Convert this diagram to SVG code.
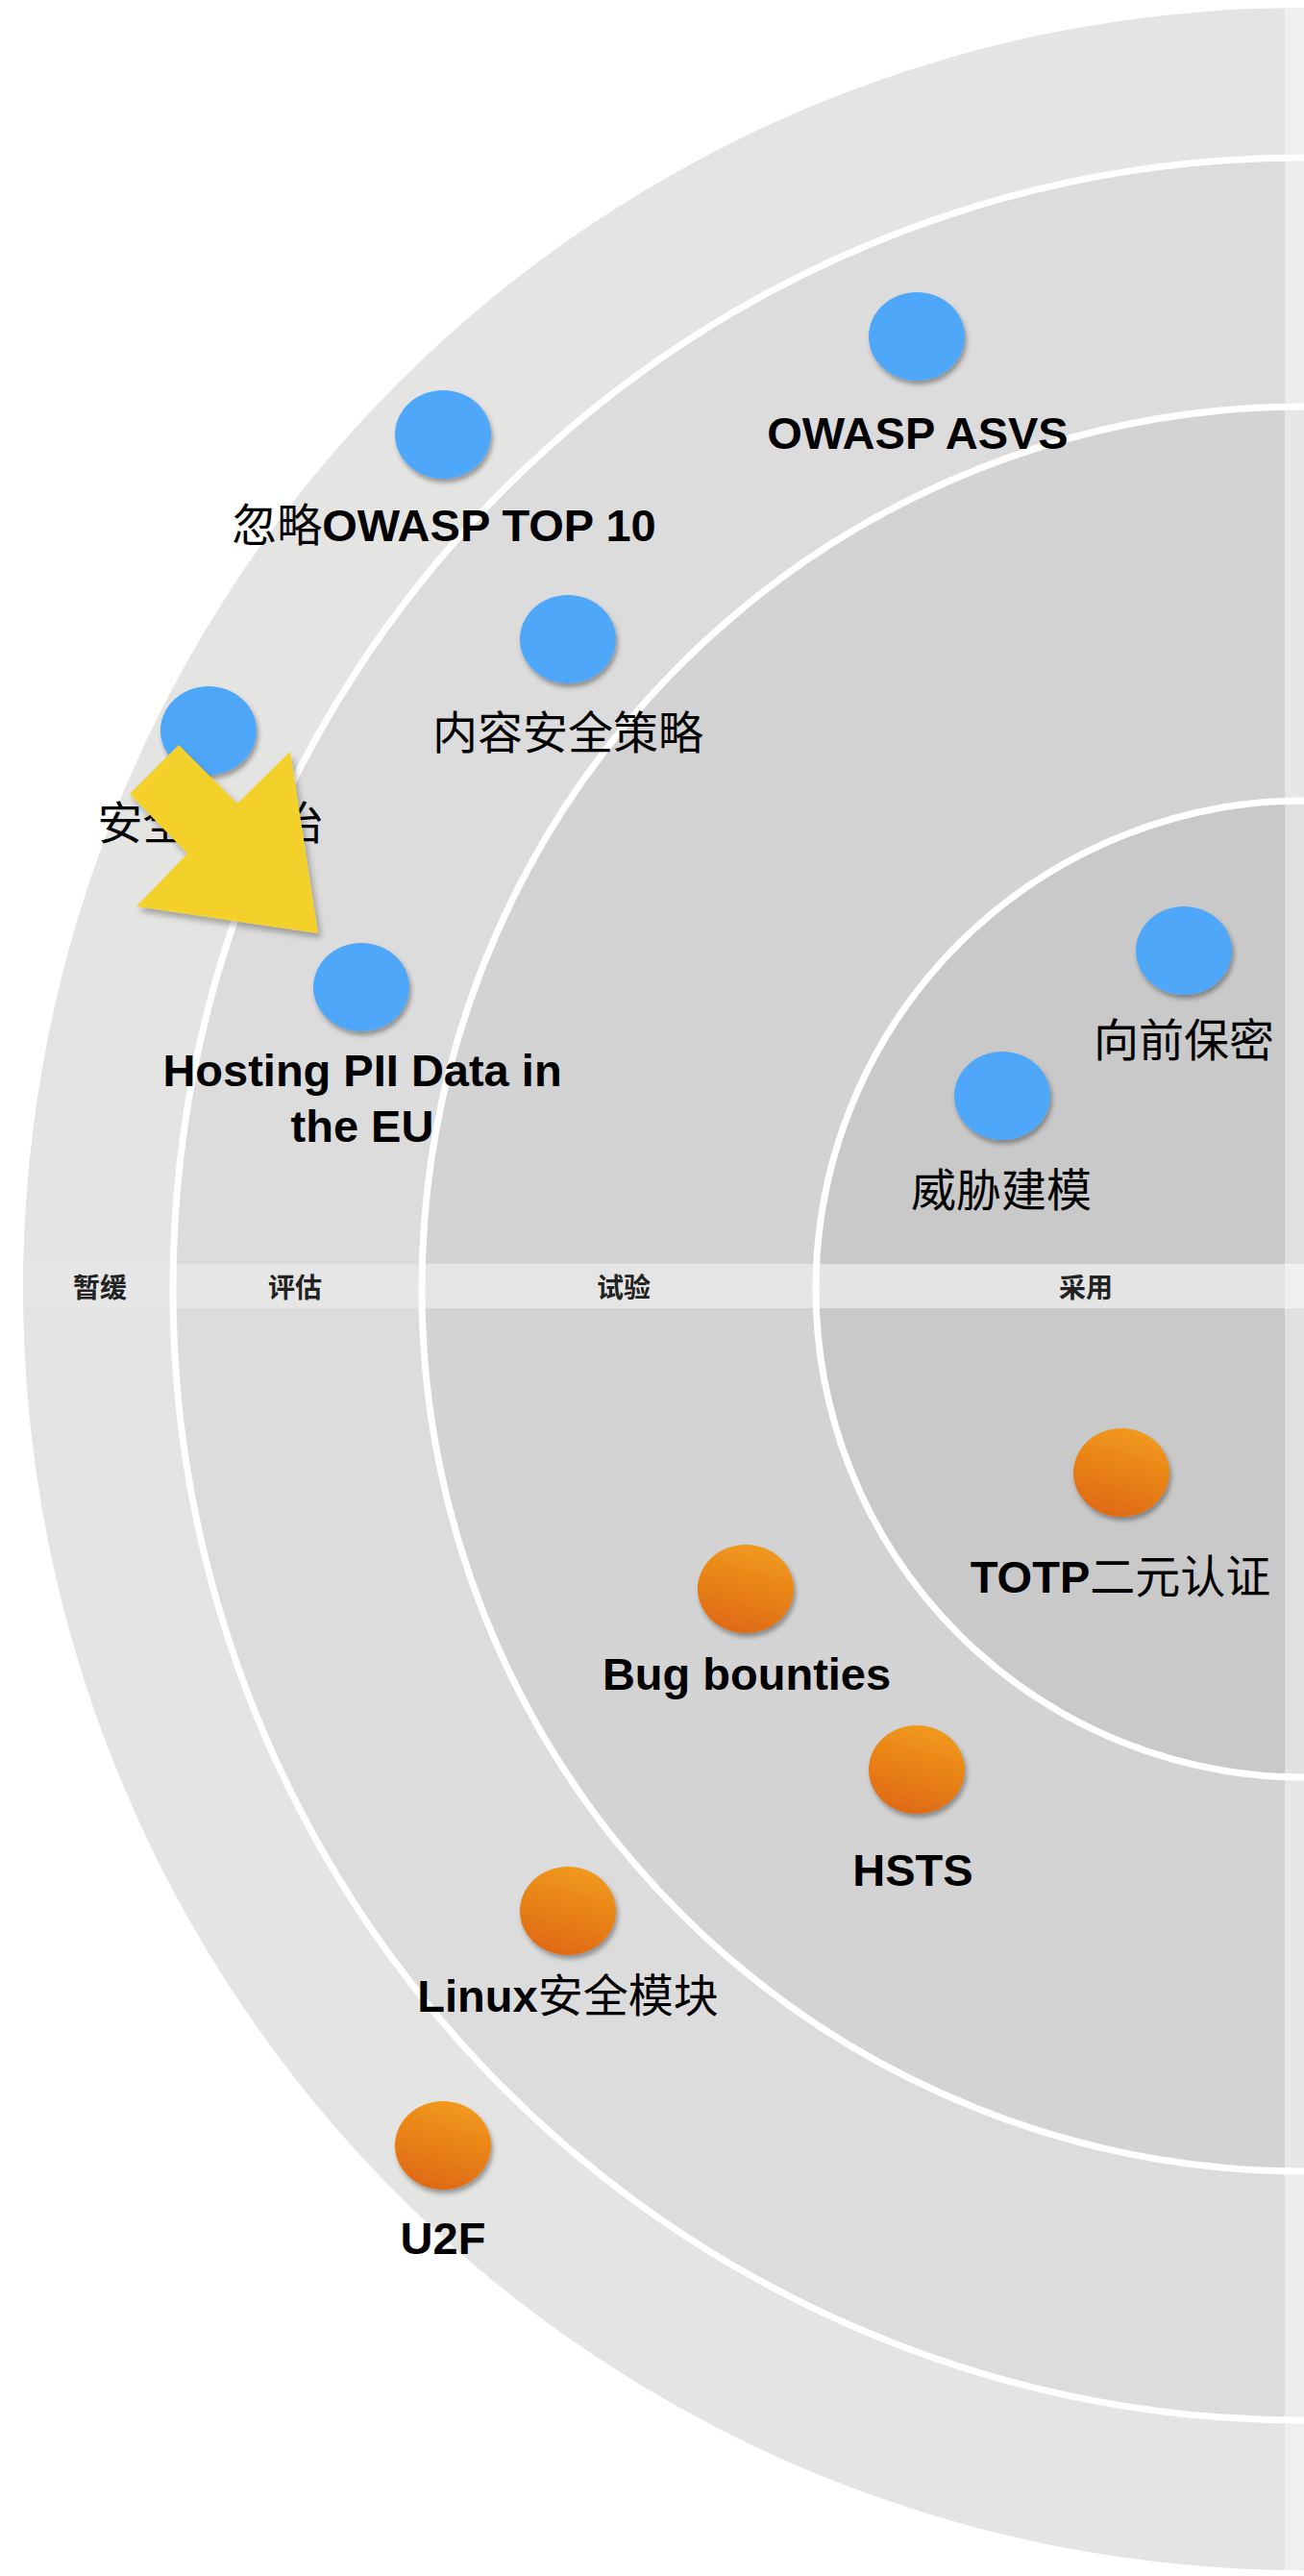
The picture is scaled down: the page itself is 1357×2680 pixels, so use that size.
<svg xmlns="http://www.w3.org/2000/svg" width="1357" height="2680" viewBox="0 0 1357 2680">
<style>
.lbl{font-family:"Liberation Sans","Noto Sans CJK SC",sans-serif;font-size:47px;fill:#000;text-anchor:middle}
.b{font-weight:bold}
.cjk{font-family:"Noto Sans CJK SC",sans-serif;font-weight:normal}
.ring{fill:none;stroke:#ffffff;stroke-width:7}
.band{font-family:"Noto Sans CJK SC",sans-serif;font-weight:bold;font-size:28px;fill:#222;text-anchor:middle}
.blue{fill:#50a7f9;filter:url(#sh)}
.orange{fill:url(#og);filter:url(#sh)}
</style>
<defs>
<filter id="sh" x="-30%" y="-30%" width="170%" height="170%">
<feDropShadow dx="2" dy="4" stdDeviation="2.5" flood-color="#000" flood-opacity="0.35"/>
</filter>
<filter id="ash" x="-20%" y="-20%" width="150%" height="150%">
<feDropShadow dx="3" dy="5" stdDeviation="3" flood-color="#000" flood-opacity="0.3"/>
</filter>
<linearGradient id="og" x1="0.65" y1="0" x2="0.35" y2="1">
<stop offset="0" stop-color="#f19a1d"/>
<stop offset="1" stop-color="#df6911"/>
</linearGradient>
<clipPath id="outer"><circle cx="1357" cy="1341" r="1333"/></clipPath>
</defs>
<rect width="1357" height="2680" fill="#ffffff"/>
<g id="radar">
<circle cx="1357" cy="1341" r="1333" fill="#e4e4e3"/>
<circle cx="1357" cy="1341" r="1177" fill="#dddcdd"/>
<circle cx="1357" cy="1341" r="918" fill="#d3d3d3"/>
<circle cx="1357" cy="1341" r="508" fill="#c9c9c9"/>
<rect x="0" y="1315" width="1357" height="46" fill="#e6e6e6" opacity="0.92" clip-path="url(#outer)"/>
<circle class="ring" cx="1357" cy="1341" r="1177"/>
<circle class="ring" cx="1357" cy="1341" r="918"/>
<circle class="ring" cx="1357" cy="1341" r="508"/>
<rect x="1337" y="0" width="20" height="2680" fill="#ffffff" opacity="0.45"/>
<text class="band" x="104" y="1350">暂缓</text>
<text class="band" x="307" y="1350">评估</text>
<text class="band" x="649" y="1350">试验</text>
<text class="band" x="1130" y="1350">采用</text>
</g>
<g id="n-owasp-asvs"><ellipse class="blue" cx="954" cy="350" rx="50" ry="46"/><text class="lbl b" x="955" y="467">OWASP ASVS</text></g>
<g id="n-owasp-top10"><ellipse class="blue" cx="461" cy="452" rx="50" ry="46"/><text class="lbl" x="462" y="563"><tspan class="cjk">忽略</tspan><tspan class="b">OWASP TOP 10</tspan></text></g>
<g id="n-csp"><ellipse class="blue" cx="591" cy="665" rx="50" ry="46"/><text class="lbl cjk" x="591" y="779">内容安全策略</text></g>
<g id="n-sandwich"><ellipse class="blue" cx="217" cy="760" rx="50" ry="46"/><text class="lbl cjk" x="219" y="873">安全三明治</text></g>
<g id="n-pii"><ellipse class="blue" cx="376" cy="1027" rx="50" ry="46"/><text class="lbl b" x="377" y="1130">Hosting PII Data in</text><text class="lbl b" x="377" y="1188">the EU</text></g>
<g id="n-forward"><ellipse class="blue" cx="1232" cy="989" rx="50" ry="46"/><text class="lbl cjk" x="1232" y="1099">向前保密</text></g>
<g id="n-threat"><ellipse class="blue" cx="1043" cy="1140" rx="50" ry="46"/><text class="lbl cjk" x="1042" y="1255">威胁建模</text></g>
<g id="n-totp"><ellipse class="orange" cx="1167" cy="1532" rx="50" ry="46"/><text class="lbl" x="1166" y="1657"><tspan class="b">TOTP</tspan><tspan class="cjk">二元认证</tspan></text></g>
<g id="n-bug"><ellipse class="orange" cx="776" cy="1653" rx="50" ry="46"/><text class="lbl b" x="777" y="1758">Bug bounties</text></g>
<g id="n-hsts"><ellipse class="orange" cx="954" cy="1841" rx="50" ry="46"/><text class="lbl b" x="950" y="1962">HSTS</text></g>
<g id="n-linux"><ellipse class="orange" cx="591" cy="1988" rx="50" ry="46"/><text class="lbl" x="591" y="2093"><tspan class="b">Linux</tspan><tspan class="cjk">安全模块</tspan></text></g>
<g id="n-u2f"><ellipse class="orange" cx="461" cy="2232" rx="50" ry="46"/><text class="lbl b" x="461" y="2345">U2F</text></g>
<g id="arrow"><polygon points="186,775 247,836 302,782 331,971 142,943 195,888 135,826" fill="#f4d12a" filter="url(#ash)"/></g>
<g id="connectors"></g>
</svg>
